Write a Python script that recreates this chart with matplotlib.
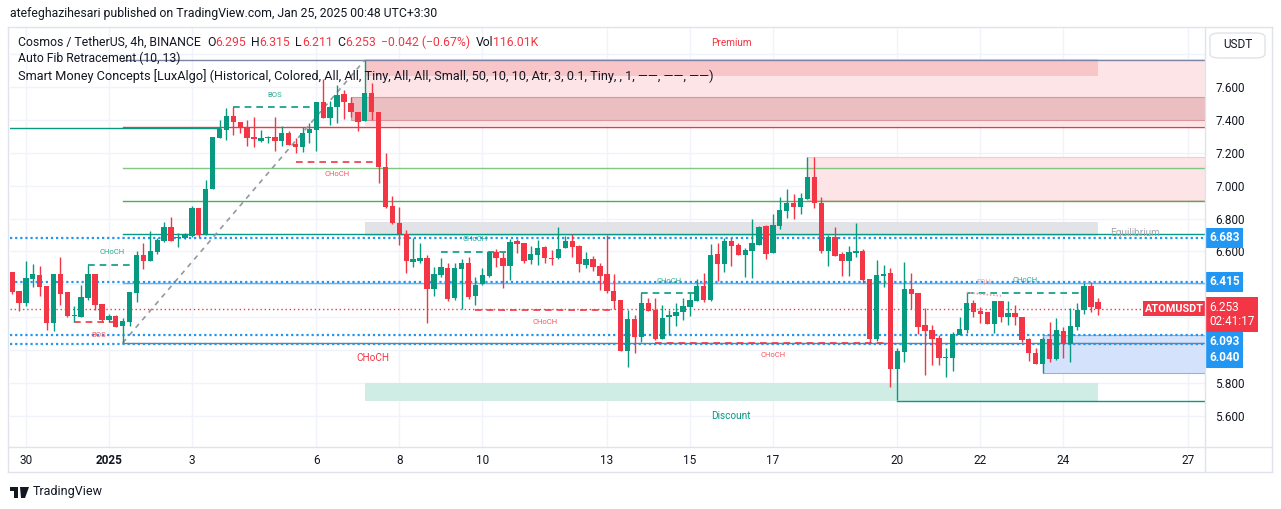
import matplotlib
matplotlib.use("Agg")
import matplotlib.pyplot as plt
import matplotlib.transforms as mtransforms
from matplotlib.patches import Rectangle, FancyBboxPatch, Polygon
from matplotlib.lines import Line2D

plt.rcParams["font.family"] = ["Roboto", "DejaVu Sans"]

W, H = 1281, 509

# ATOM/USDT 4h candles, Dec 29 -> Jan 24
opens = [6.475, 6.360, 6.289, 6.435, 6.457, 6.390, 6.167, 6.465, 6.354, 6.208,
         6.204, 6.315, 6.463, 6.281, 6.184, 6.208, 6.147, 6.171, 6.350, 6.579,
         6.544, 6.597, 6.666, 6.751, 6.683, 6.682, 6.694, 6.864, 6.700, 6.978,
         7.292, 7.339, 7.424, 7.389, 7.359, 7.294, 7.274, 7.290, 7.294, 7.274,
         7.319, 7.253, 7.233, 7.322, 7.339, 7.507, 7.413, 7.477, 7.557, 7.501,
         7.450, 7.395, 7.565, 7.450, 7.112, 6.877, 6.771, 6.706, 6.538, 6.544,
         6.562, 6.372, 6.457, 6.498, 6.315, 6.492, 6.532, 6.329, 6.402, 6.451,
         6.599, 6.559, 6.514, 6.664, 6.650, 6.548, 6.579, 6.626, 6.562, 6.559,
         6.619, 6.664, 6.633, 6.518, 6.553, 6.512, 6.463, 6.362, 6.305, 5.997,
         6.190, 6.082, 6.285, 6.244, 6.066, 6.200, 6.208, 6.232, 6.261, 6.301,
         6.392, 6.305, 6.585, 6.524, 6.664, 6.640, 6.579, 6.605, 6.640, 6.755,
         6.593, 6.755, 6.848, 6.897, 6.872, 6.919, 7.055, 6.897, 6.605, 6.690,
         6.585, 6.544, 6.589, 6.605, 6.431, 6.066, 6.453, 6.471, 5.884, 5.991,
         6.372, 6.346, 6.153, 6.123, 6.072, 5.954, 5.954, 6.092, 6.123, 6.285,
         6.240, 6.234, 6.159, 6.299, 6.204, 6.228, 6.200, 6.068, 5.985, 5.916,
         6.068, 5.944, 6.117, 6.038, 6.143, 6.244, 6.390, 6.295]
highs = [6.475, 6.360, 6.542, 6.526, 6.512, 6.390, 6.463, 6.567, 6.354, 6.269,
         6.396, 6.518, 6.463, 6.281, 6.220, 6.214, 6.198, 6.354, 6.603, 6.653,
         6.725, 6.682, 6.781, 6.812, 6.712, 6.712, 6.877, 6.864, 7.035, 7.298,
         7.400, 7.471, 7.480, 7.389, 7.400, 7.420, 7.339, 7.300, 7.420, 7.363,
         7.333, 7.288, 7.359, 7.379, 7.507, 7.647, 7.517, 7.612, 7.582, 7.541,
         7.450, 7.764, 7.624, 7.450, 7.200, 6.937, 6.872, 6.731, 6.682, 6.650,
         6.579, 6.508, 6.559, 6.528, 6.532, 6.553, 6.565, 6.443, 6.498, 6.605,
         6.613, 6.599, 6.674, 6.674, 6.654, 6.633, 6.668, 6.633, 6.609, 6.747,
         6.694, 6.705, 6.639, 6.595, 6.573, 6.532, 6.700, 6.463, 6.305, 6.244,
         6.214, 6.346, 6.315, 6.315, 6.275, 6.244, 6.285, 6.315, 6.346, 6.431,
         6.468, 6.646, 6.650, 6.680, 6.680, 6.650, 6.619, 6.796, 6.755, 6.761,
         6.828, 6.933, 6.978, 6.950, 6.954, 7.176, 7.176, 6.930, 6.700, 6.747,
         6.599, 6.633, 6.775, 6.615, 6.431, 6.548, 6.518, 6.498, 6.012, 6.534,
         6.468, 6.346, 6.255, 6.153, 6.092, 6.012, 6.112, 6.200, 6.350, 6.305,
         6.264, 6.234, 6.299, 6.299, 6.299, 6.275, 6.200, 6.072, 6.012, 6.082,
         6.173, 6.194, 6.143, 6.255, 6.285, 6.407, 6.416, 6.315]
lows = [6.340, 6.240, 6.269, 6.384, 6.329, 6.123, 6.119, 6.275, 6.200, 6.171,
        6.200, 6.305, 6.244, 6.171, 6.171, 6.140, 6.044, 6.147, 6.295, 6.494,
        6.544, 6.585, 6.658, 6.666, 6.627, 6.676, 6.688, 6.688, 6.700, 6.978,
        7.292, 7.278, 7.308, 7.318, 7.241, 7.237, 7.266, 7.260, 7.213, 7.241,
        7.247, 7.201, 7.207, 7.258, 7.213, 7.413, 7.369, 7.379, 7.404, 7.416,
        7.334, 7.395, 7.400, 7.018, 6.865, 6.767, 6.640, 6.468, 6.504, 6.528,
        6.167, 6.329, 6.443, 6.297, 6.305, 6.249, 6.310, 6.275, 6.396, 6.447,
        6.508, 6.376, 6.427, 6.589, 6.528, 6.522, 6.518, 6.532, 6.518, 6.553,
        6.619, 6.568, 6.474, 6.498, 6.483, 6.366, 6.350, 6.249, 5.997, 5.900,
        5.981, 6.052, 6.238, 6.062, 6.066, 6.092, 6.147, 6.184, 6.208, 6.299,
        6.290, 6.300, 6.422, 6.477, 6.512, 6.579, 6.447, 6.437, 6.640, 6.553,
        6.593, 6.735, 6.802, 6.796, 6.828, 6.919, 6.863, 6.589, 6.512, 6.573,
        6.451, 6.451, 6.568, 6.410, 6.046, 6.058, 6.382, 5.778, 5.697, 5.930,
        6.249, 6.098, 5.849, 5.910, 5.910, 5.839, 5.875, 6.092, 6.106, 6.200,
        6.167, 6.159, 6.106, 6.173, 6.153, 6.153, 6.052, 5.936, 5.916, 5.860,
        5.930, 5.940, 5.951, 5.927, 6.123, 6.220, 6.234, 6.211]
closes = [6.356, 6.289, 6.439, 6.463, 6.386, 6.167, 6.463, 6.344, 6.208, 6.212,
          6.323, 6.463, 6.277, 6.184, 6.208, 6.143, 6.178, 6.354, 6.579, 6.544,
          6.603, 6.668, 6.751, 6.666, 6.690, 6.706, 6.864, 6.700, 6.980, 7.298,
          7.347, 7.424, 7.389, 7.355, 7.292, 7.282, 7.292, 7.292, 7.274, 7.319,
          7.247, 7.233, 7.322, 7.343, 7.507, 7.413, 7.477, 7.551, 7.507, 7.450,
          7.389, 7.565, 7.450, 7.112, 6.872, 6.771, 6.706, 6.544, 6.554, 6.559,
          6.372, 6.463, 6.506, 6.309, 6.498, 6.532, 6.322, 6.396, 6.457, 6.599,
          6.559, 6.514, 6.660, 6.646, 6.544, 6.585, 6.619, 6.559, 6.556, 6.615,
          6.664, 6.629, 6.522, 6.553, 6.504, 6.451, 6.362, 6.301, 5.997, 6.190,
          6.082, 6.285, 6.240, 6.066, 6.194, 6.214, 6.234, 6.269, 6.305, 6.390,
          6.305, 6.579, 6.524, 6.664, 6.633, 6.579, 6.609, 6.650, 6.747, 6.585,
          6.761, 6.852, 6.897, 6.872, 6.923, 7.055, 6.893, 6.605, 6.690, 6.573,
          6.544, 6.599, 6.603, 6.427, 6.066, 6.457, 6.463, 5.884, 5.997, 6.370,
          6.342, 6.143, 6.117, 6.070, 5.954, 5.957, 6.098, 6.127, 6.285, 6.234,
          6.220, 6.159, 6.299, 6.200, 6.228, 6.200, 6.062, 5.985, 5.916, 6.068,
          5.944, 6.123, 6.038, 6.147, 6.244, 6.390, 6.265, 6.253]

# date ticks (bar index of first 4h bar of the day)
date_ticks = [2, 14, 26, 44, 56, 68, 86, 98, 110, 128, 140, 152, 170]
date_labels = ["30", "2025", "3", "6", "8", "10", "13", "15", "17", "20", "22", "24", "27"]
price_ticks = [5.6, 5.8, 6.6, 6.8, 7.0, 7.2, 7.4, 7.6]
grid_prices = [5.6, 5.8, 6.0, 6.2, 6.4, 6.6, 6.8, 7.0, 7.2, 7.4, 7.6, 7.8]

# auto fib retracement (low bar 16 -> high bar 51)
fib_start = 16
fib_high_bar = 51
fib_levels = [7.764, 7.358, 7.107, 6.906, 6.705, 6.408, 6.044]
fib_colors = ["#7d85a6", "#f23645", "#81c784", "#4caf50", "#089981", "#64b5f6", "#787b86"]

# horizontal price levels (dotted blue)
level_lines = [6.683, 6.415, 6.093, 6.040]
level_label_y = [6.683, 6.415, 6.050, 5.953]
last_price = 6.253
old_level = 7.35
old_level_end = 30

# market structure: (start bar, end bar, price, label, bullish)
structures = [
    (11, 18, 6.518, "CHoCH", True),
    (9, 16, 6.171, "BOS", False),
    (32, 44, 7.477, "BOS", True),
    (41, 53, 7.146, "CHoCH", False),
    (62, 72, 6.599, "CHoCH", True),
    (67, 87, 6.247, "CHoCH", False),
    (91, 99, 6.346, "CHoCH", True),
    (93, 127, 6.046, "CHoCH", False),
    (138, 155, 6.350, "CHoCH", True),
]

# zones (start bar, top, bottom)
zone_start = 51
zone_end = 157
premium = (7.770, 7.667)
premium_wide = (7.770, 7.363)
bear_ob_start = 49
bear_ob = (7.539, 7.398)
bear_ob2_start = 115
bear_ob2 = (7.174, 6.913)
equilibrium = (6.779, 6.694)
discount = (5.800, 5.691)
bull_ob_start = 149
bull_ob = (6.092, 5.860)
strong_low_start = 128
strong_low = 5.691

GREEN = "#089981"
RED = "#f23645"
BLUE = "#2196f3"
TXT = "#131722"

fig = plt.figure(figsize=(W / 100, H / 100), dpi=100)
fig.patch.set_facecolor("white")

x0px, x1px, y0px, y1px = 10, 1205, 28, 447
ax = fig.add_axes([x0px / W, 1 - y1px / H, (x1px - x0px) / W, (y1px - y0px) / H])
bar_px = 6.917
ax.set_xlim((x0px - 12) / bar_px, (x1px - 12) / bar_px)
ax.set_ylim(7.6 - (y1px - 87) / 164.5, 7.6 + (87 - y0px) / 164.5)
xmax = ax.get_xlim()[1]
xmin = ax.get_xlim()[0]

for s in ax.spines.values():
    s.set_visible(False)

# grid
for p in grid_prices:
    ax.axhline(p, color="#f0f3fa", lw=1, zorder=0)
for t in date_ticks:
    ax.axvline(t, color="#f0f3fa", lw=1, zorder=0)

# zones
def zone(x_a, x_b, top, bot, fc, ec=None, z=1):
    ax.add_patch(Rectangle((x_a, bot), x_b - x_a, top - bot, facecolor=fc,
                           edgecolor=ec if ec else "none", lw=0.8, zorder=z))

zone(zone_start, xmax, premium_wide[0], premium_wide[1], "#fde5e7", z=1)
zone(zone_start, zone_end, premium[0], premium[1], "#f8c5c9", z=1.1)
zone(bear_ob_start, xmax, bear_ob[0], bear_ob[1], "#ebbec1", ec="#d8979c", z=1.2)
zone(bear_ob2_start, xmax, bear_ob2[0], bear_ob2[1], "#fde5e7", ec="#f8c8cc", z=1)
zone(zone_start, zone_end, equilibrium[0], equilibrium[1], "#e2e3e7", z=1)
zone(zone_start, zone_end, discount[0], discount[1], "#cfece5", z=1)
zone(bull_ob_start, xmax, bull_ob[0], bull_ob[1], "#d4e2fb", ec="#8ab4f5", z=1)

ax.text((zone_start + zone_end) / 2, premium[0] + 0.1, "Premium", color=RED,
        fontsize=7.2, ha="center", va="center")
ax.text((zone_start + zone_end) / 2, discount[1] - 0.09, "Discount", color=GREEN,
        fontsize=7.2, ha="center", va="center")
ax.text(zone_end + 1.7, (equilibrium[0] + equilibrium[1]) / 2 - 0.025, "Equilibrium",
        color="#a3a6af", fontsize=7.2, ha="left", va="center")

# fib lines
for lv, c in zip(fib_levels, fib_colors):
    ax.plot([fib_start, xmax], [lv, lv], color=c, lw=1, zorder=2)
ax.plot([fib_start, fib_high_bar], [fib_levels[-1], fib_levels[0]], color="#9598a1",
        lw=1.2, ls=(0, (3, 3)), zorder=2)
ax.plot([xmin, old_level_end], [old_level, old_level], color=GREEN, lw=1, zorder=2)
ax.plot([strong_low_start, xmax], [strong_low, strong_low], color=GREEN, lw=1, zorder=2)

# dotted levels
for lv in level_lines:
    ax.plot([xmin, xmax], [lv, lv], color=BLUE, lw=1.6, ls=(0, (1, 1.3)), zorder=2.5)
ax.plot([xmin, xmax], [last_price, last_price], color=RED, lw=1, ls=(0, (1, 2)), zorder=2.5)

# structure lines
for a, b, p, lab, bull in structures:
    c = GREEN if bull else RED
    ax.plot([a, b], [p, p], color=c, lw=1.2, ls=(0, (4, 3)), zorder=3)
    ax.annotate(lab, ((a + b) / 2, p), xytext=(0, 9 if bull else -9),
                textcoords="offset points", ha="center", va="center",
                color=c, fontsize=5.5, alpha=0.85, zorder=3)
ax.text(52.2, 5.953, "CHoCH", color=RED, fontsize=7.2, ha="center", va="center")
# equal highs
ax.plot([138, 143], [6.35, 6.33], color="#f7a1a8", lw=1.2, ls=(0, (1, 1)), zorder=3)
ax.annotate("EQH", (140.5, 6.35), xytext=(0, 8), textcoords="offset points",
            ha="center", va="center", color="#f7a1a8", fontsize=5.5)

# candles
n = len(opens)
for i in range(n):
    o, h, l, c = opens[i], highs[i], lows[i], closes[i]
    col = GREEN if c >= o else RED
    ax.vlines(i, l, h, color=col, lw=1.0, zorder=4)
    lo = min(o, c)
    ht = max(abs(c - o), 0.004)
    ax.add_patch(Rectangle((i - 0.39, lo), 0.78, ht, facecolor=col, edgecolor="none", zorder=5))

# axes ticks
ax.yaxis.tick_right()
ax.set_yticks(price_ticks)
ax.set_yticklabels([f"{p:.3f}" for p in price_ticks])
ax.tick_params(axis="y", length=0, pad=7.5, labelsize=8.5, labelcolor=TXT)
ax.set_xticks(date_ticks)
ax.set_xticklabels(date_labels)
ax.tick_params(axis="x", length=0, pad=5, labelsize=8.5, labelcolor=TXT)
ax.get_xticklabels()[1].set_fontweight("bold")

# right-side price labels
tr = mtransforms.blended_transform_factory(ax.transAxes, ax.transData)
for lv, ly in zip(level_lines, level_label_y):
    ax.text(1.0035, ly, f"{lv:.3f}", transform=tr, color="white", fontsize=8.5,
            fontweight="bold", ha="left", va="center", clip_on=False, zorder=10,
            bbox=dict(boxstyle="square,pad=0.28", fc=BLUE, ec="none"))
ax.text(1.0035, last_price - 0.035, f"{last_price:.3f}\n02:41:17", transform=tr,
        color="white", fontsize=8.5, ha="left", va="center", clip_on=False,
        zorder=10, linespacing=1.15,
        bbox=dict(boxstyle="square,pad=0.3", fc=RED, ec="none"))
ax.text(0.9995, last_price, "ATOMUSDT", transform=tr, color="white", fontsize=7.8,
        fontweight="bold", ha="right", va="center", clip_on=False, zorder=10,
        bbox=dict(boxstyle="square,pad=0.25", fc=RED, ec="none"))

# frame
def fline(xa, ya, xb, yb, c="#e0e3eb", lw=1):
    fig.add_artist(Line2D([xa / W, xb / W], [1 - ya / H, 1 - yb / H], color=c, lw=lw))

fline(8, 27, 1272, 27)
fline(8, 472, 1272, 472)
fline(8, 27, 8, 472)
fline(1272, 27, 1272, 472)
fline(1205, 27, 1205, 472)
fline(8, 447, 1272, 447)

fig.add_artist(FancyBboxPatch((1210 / W, 1 - 58 / H), 55 / W, 25 / H,
                              boxstyle="round,pad=0,rounding_size=0.008",
                              fc="white", ec="#e0e3eb", lw=1, transform=fig.transFigure))
fig.text(1237.5 / W, 1 - 45 / H, "USDT", color=TXT, fontsize=8.5, ha="center", va="center")

# header texts
renderer = fig.canvas.get_renderer()

def runs(x, y, parts, size):
    for s, c, gap in parts:
        t = fig.text(x / W, 1 - y / H, s, color=c, fontsize=size, ha="left", va="center")
        x += t.get_window_extent(renderer=renderer).width + gap

fig.text(10 / W, 1 - 14 / H, "atefeghazihesari published on TradingView.com, Jan 25, 2025 00:48 UTC+3:30",
         color=TXT, fontsize=8.8, ha="left", va="center")
runs(18, 42, [("Cosmos / TetherUS, 4h, BINANCE", TXT, 6),
              ("O", TXT, 0), ("6.295", RED, 5),
              ("H", TXT, 0), ("6.315", RED, 5),
              ("L", TXT, 0), ("6.211", RED, 5),
              ("C", TXT, 0), ("6.253", RED, 5),
              ("\u22120.042 (\u22120.67%)", RED, 5),
              ("Vol", TXT, 0), ("116.01K", RED, 0)], 8.8)
fig.text(18 / W, 1 - 58 / H, "Auto Fib Retracement (10, 13)", color=TXT, fontsize=8.8,
         ha="left", va="center")
fig.text(18 / W, 1 - 76 / H,
         "Smart Money Concepts [LuxAlgo] (Historical, Colored, All, All, Tiny, All, All, Small, 50, 10, 10, Atr, 3, 0.1, Tiny, , 1, \u2014\u2014, \u2014\u2014, \u2014\u2014)",
         color=TXT, fontsize=9.2, ha="left", va="center")

# TradingView logo
fig.add_artist(Rectangle((10 / W, 1 - 491 / H), 8 / W, 4 / H, fc=TXT, ec="none", transform=fig.transFigure))
fig.add_artist(Rectangle((14 / W, 1 - 498 / H), 4 / W, 11 / H, fc=TXT, ec="none", transform=fig.transFigure))
fig.add_artist(Polygon([(20 / W, 1 - 487 / H), (29 / W, 1 - 487 / H), (25 / W, 1 - 498 / H), (21 / W, 1 - 498 / H)],
                       closed=True, fc=TXT, ec="none", transform=fig.transFigure))
fig.text(33 / W, 1 - 492 / H, "TradingView", color=TXT, fontsize=9, ha="left", va="center")

fig.savefig("out.png", dpi=100, facecolor="white")
